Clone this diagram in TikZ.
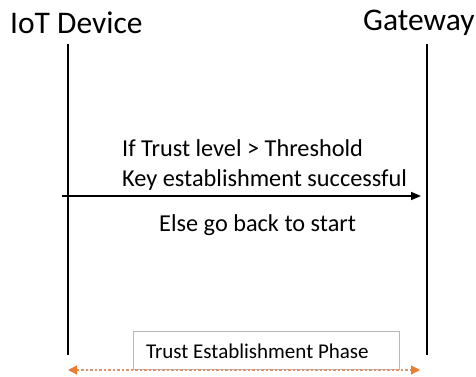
\documentclass[tikz,border=0pt]{standalone}
\usepackage{fontspec}
\setmainfont{Carlito}
\usetikzlibrary{arrows.meta}
\definecolor{phaseorange}{RGB}{237,125,49}
\definecolor{spandash}{RGB}{215,150,110}
\definecolor{boxgray}{RGB}{185,185,185}
\begin{document}
\begin{tikzpicture}[x=1pt,y=-1pt,
  lifeline/.style={line width=2pt,black},
  actor/.style={font=\fontsize{31.5}{34}\selectfont,inner sep=0pt,anchor=west},
  msgtext/.style={font=\fontsize{24.3}{26}\selectfont,inner sep=0pt,anchor=west},
  phasebox/.style={draw=boxgray,line width=0.8pt,fill=white,inner sep=0pt},
  phasetext/.style={font=\fontsize{21}{23}\selectfont,inner sep=0pt,anchor=west},
  msg/.style={line width=1.6pt,-{Triangle[length=10pt,width=8pt]}},
  span/.style={spandash,line width=1.3pt,dash pattern=on 2.5pt off 2pt,
    {Triangle[length=9pt,width=9pt,color=phaseorange,fill=phaseorange]}-{Triangle[length=9pt,width=9pt,color=phaseorange,fill=phaseorange]}}]
\useasboundingbox (0,0) rectangle (476,377);
% participants
\node[actor] (dev) at (10,23) {IoT Device};
\node[actor] (gw) at (363,23) {Gateway};
\coordinate (devtop) at (68,44);
\coordinate (devbot) at (68,355);
\coordinate (gwtop) at (427,44);
\coordinate (gwbot) at (427,355);
\draw[lifeline] (devtop) -- (devbot);
\draw[lifeline] (gwtop) -- (gwbot);
% message
\coordinate (msgstart) at (62,196);
\coordinate (msgend) at (421,196);
\draw[msg] (msgstart) -- (msgend);
\node[msgtext] (cond) at (122,148) {If Trust level > Threshold};
\node[msgtext] (ok) at (122,180) {Key establishment successful};
\node[msgtext] (els) at (159,225) {Else go back to start};
% phase box and span
\draw[phasebox] (133,331) rectangle (399,369);
\node[phasetext] (phase) at (146,351) {Trust Establishment Phase};
\coordinate (spanl) at (68,370);
\coordinate (spanr) at (420,370);
\draw[span] (spanl) -- (spanr);
\end{tikzpicture}
\end{document}
